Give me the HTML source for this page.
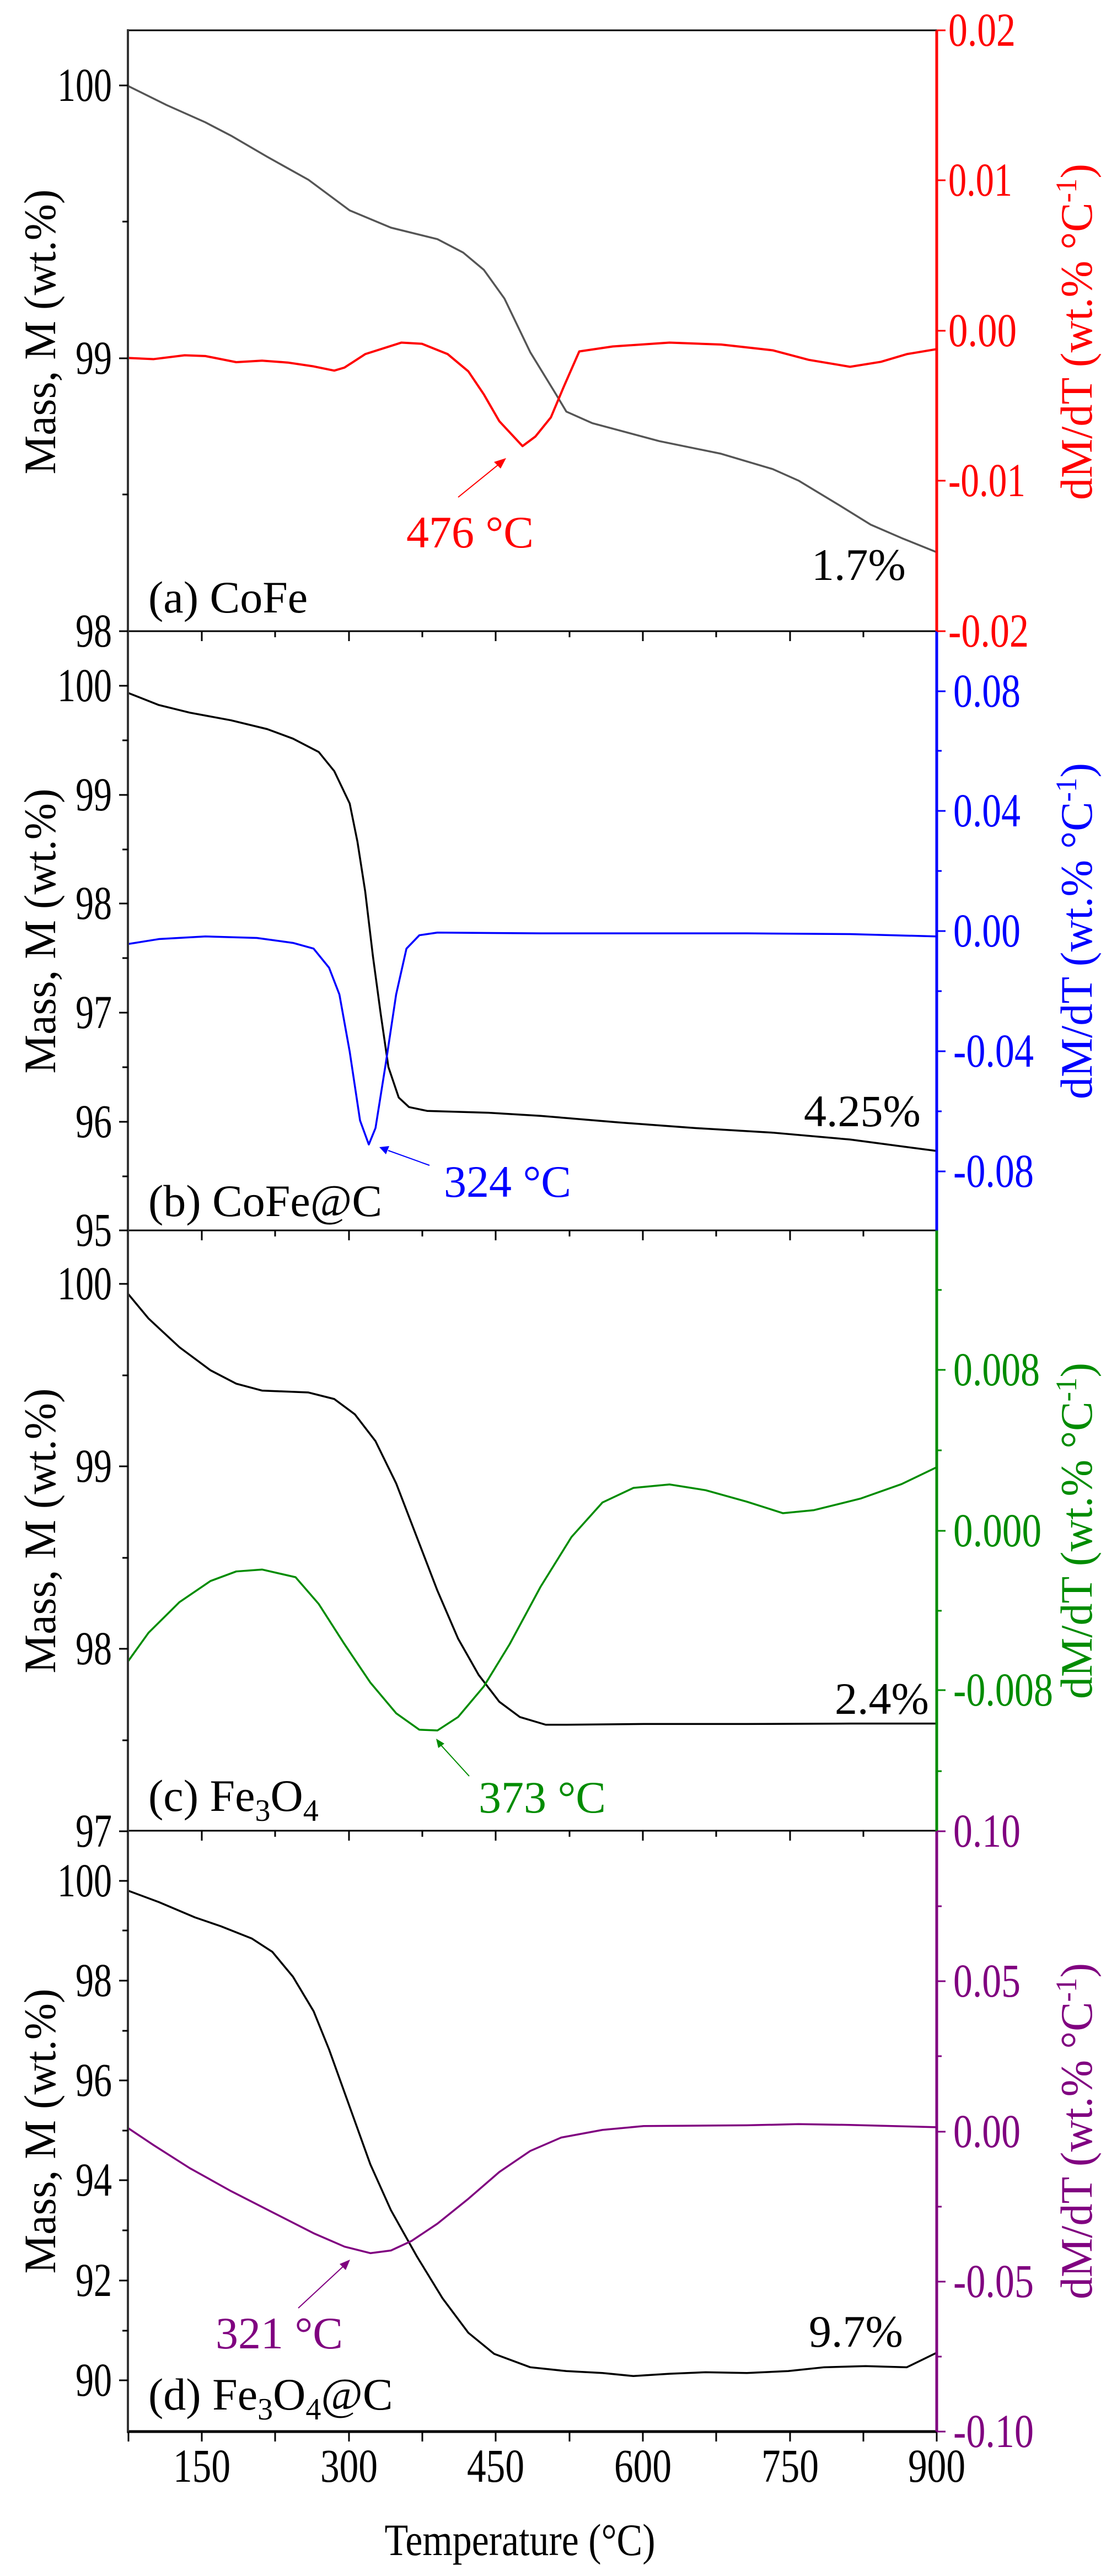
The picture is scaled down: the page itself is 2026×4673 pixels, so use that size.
<!DOCTYPE html>
<html><head><meta charset="utf-8"><style>
html,body{margin:0;padding:0;background:#fff;}
svg{display:block;font-family:"Liberation Serif",serif;}
</style></head><body>
<svg width="2026" height="4673" viewBox="0 0 2026 4673" xmlns="http://www.w3.org/2000/svg">
<rect width="2026" height="4673" fill="#fff"/>

<!-- Panel a curves -->
<svg x="232" y="55" width="1467" height="1090" viewBox="0 0 1568 1568" preserveAspectRatio="none">
<polyline fill="none" stroke="#555" stroke-width="3.5" vector-effect="non-scaling-stroke" stroke-linejoin="round" points="0,145 75,195 150,240 200,275 270,330 350,390 430,470 510,515 600,545 650,580 690,625 730,700 780,840 830,950 850,995 900,1025 1030,1072 1150,1105 1250,1145 1300,1175 1380,1240 1440,1290 1500,1325 1568,1362"/>
<polyline fill="none" stroke="#ff0000" stroke-width="4" vector-effect="non-scaling-stroke" stroke-linejoin="round" points="0,855 50,858 110,848 150,850 210,866 260,862 310,867 360,877 400,888 420,880 460,845 530,815 570,818 620,845 660,890 690,950 720,1020 765,1085 790,1060 820,1010 845,930 875,838 940,825 1050,815 1150,820 1250,835 1320,860 1400,878 1460,865 1510,845 1568,832"/>
</svg>
<!-- Panel b curves -->
<svg x="232" y="1146" width="1467" height="1086" viewBox="0 0 1568 1568" preserveAspectRatio="none">
<polyline fill="none" stroke="#000" stroke-width="3.5" vector-effect="non-scaling-stroke" stroke-linejoin="round" points="0,160 60,192 120,212 200,232 270,255 320,280 370,315 400,365 430,450 445,550 460,680 475,850 490,1000 505,1140 525,1220 545,1245 580,1255 700,1260 800,1268 950,1285 1100,1300 1250,1312 1400,1330 1568,1360"/>
<polyline fill="none" stroke="#0000ff" stroke-width="3.5" vector-effect="non-scaling-stroke" stroke-linejoin="round" points="0,818 60,805 150,798 250,802 320,815 360,830 390,880 410,950 430,1100 450,1280 467,1343 480,1300 500,1130 520,950 540,830 565,795 600,788 800,790 1000,790 1200,790 1400,792 1568,798"/>
</svg>
<!-- Panel c curves -->
<svg x="232" y="2232" width="1467" height="1090" viewBox="0 0 1568 1568" preserveAspectRatio="none">
<polyline fill="none" stroke="#000" stroke-width="3.5" vector-effect="non-scaling-stroke" stroke-linejoin="round" points="0,165 40,230 100,305 160,365 210,400 260,418 350,423 400,440 440,480 480,550 520,660 560,800 600,940 640,1065 680,1160 720,1230 760,1270 810,1290 850,1290 1000,1288 1200,1288 1400,1287 1568,1287"/>
<polyline fill="none" stroke="#008c00" stroke-width="3.5" vector-effect="non-scaling-stroke" stroke-linejoin="round" points="0,1125 40,1050 100,970 160,915 210,890 260,885 325,905 370,975 420,1080 470,1180 520,1260 565,1303 600,1305 640,1270 690,1190 740,1080 800,930 860,800 920,710 980,672 1050,663 1120,678 1200,708 1270,738 1330,730 1420,700 1500,662 1568,618"/>
</svg>
<!-- Panel d curves -->
<svg x="232" y="3322" width="1467" height="1089" viewBox="0 0 1568 1568" preserveAspectRatio="none">
<polyline fill="none" stroke="#000" stroke-width="3.5" vector-effect="non-scaling-stroke" stroke-linejoin="round" points="0,155 60,185 130,225 180,248 240,280 280,315 320,380 360,470 390,570 430,720 470,870 510,990 560,1110 610,1220 660,1310 710,1365 780,1400 850,1410 920,1415 980,1423 1050,1417 1120,1413 1200,1415 1280,1410 1350,1400 1430,1397 1510,1400 1568,1362"/>
<polyline fill="none" stroke="#800080" stroke-width="3.5" vector-effect="non-scaling-stroke" stroke-linejoin="round" points="0,775 50,820 120,880 200,940 280,995 360,1050 420,1085 470,1102 510,1095 550,1070 600,1025 660,960 720,890 780,835 840,800 920,780 1000,770 1200,768 1300,765 1400,767 1568,773"/>
</svg>

<!-- Frame lines -->
<g stroke="#000" stroke-width="3">
<line x1="232" y1="55" x2="1699" y2="55"/>
<line x1="232" y1="1145" x2="1699" y2="1145"/>
<line x1="232" y1="2232" x2="1699" y2="2232"/>
<line x1="232" y1="3321" x2="1699" y2="3321"/>
</g>
<line x1="230" y1="4411" x2="1699" y2="4411" stroke="#000" stroke-width="5"/>
<line x1="232" y1="53" x2="232" y2="4413" stroke="#333" stroke-width="4"/>
<line x1="1699" y1="55" x2="1699" y2="1145" stroke="#ff0000" stroke-width="5"/>
<line x1="1699" y1="1145" x2="1699" y2="2232" stroke="#0000ff" stroke-width="5"/>
<line x1="1699" y1="2232" x2="1699" y2="3322" stroke="#008c00" stroke-width="5"/>
<line x1="1699" y1="3322" x2="1699" y2="4411" stroke="#800080" stroke-width="5"/>

<!-- x ticks at panel boundaries (pointing down) -->
<g stroke="#000" stroke-width="3">
<path d="M366,1145v18 M499,1145v11 M633,1145v18 M766,1145v11 M899,1145v18 M1033,1145v11 M1166,1145v18 M1299,1145v11 M1433,1145v18 M1566,1145v11"/>
<path d="M366,2232v18 M499,2232v11 M633,2232v18 M766,2232v11 M899,2232v18 M1033,2232v11 M1166,2232v18 M1299,2232v11 M1433,2232v18 M1566,2232v11"/>
<path d="M366,3321v18 M499,3321v11 M633,3321v18 M766,3321v11 M899,3321v18 M1033,3321v11 M1166,3321v18 M1299,3321v11 M1433,3321v18 M1566,3321v11"/>
<path d="M233,4411v18 M366,4411v18 M499,4411v18 M633,4411v18 M766,4411v18 M899,4411v18 M1033,4411v18 M1166,4411v18 M1299,4411v18 M1433,4411v18 M1566,4411v18 M1699,4411v18"/>
</g>

<!-- left y ticks -->
<g stroke="#000" stroke-width="3">
<path d="M216,155h16 M222,402h10 M216,650h16 M222,897h10 M216,1145h16"/>
<path d="M216,1244h16 M222,1343h10 M216,1442h16 M222,1541h10 M216,1639h16 M222,1738h10 M216,1837h16 M222,1936h10 M216,2035h16 M222,2134h10 M216,2232h16"/>
<path d="M216,2329h16 M222,2495h10 M216,2660h16 M222,2826h10 M216,2991h16 M222,3157h10 M216,3322h16"/>
<path d="M216,3412h16 M222,3502h10 M216,3593h16 M222,3684h10 M216,3774h16 M222,3865h10 M216,3955h16 M222,4046h10 M216,4137h16 M222,4228h10 M216,4318h16"/>
</g>
<!-- right y ticks -->
<g stroke-width="3">
<path stroke="#ff0000" d="M1699,55h16 M1699,327h16 M1699,600h16 M1699,872h16 M1699,1145h16"/>
<path stroke="#0000ff" d="M1699,1254h16 M1699,1362h9 M1699,1471h16 M1699,1580h9 M1699,1689h16 M1699,1798h9 M1699,1907h16 M1699,2016h9 M1699,2125h16"/>
<path stroke="#008c00" d="M1699,2340h9 M1699,2485h16 M1699,2631h9 M1699,2777h16 M1699,2922h9 M1699,3066h16 M1699,3213h9"/>
<path stroke="#800080" d="M1699,3322h16 M1699,3458h9 M1699,3594h16 M1699,3730h9 M1699,3867h16 M1699,4003h9 M1699,4139h16 M1699,4275h9 M1699,4411h16"/>
</g>

<!-- left tick labels -->
<g font-size="86" fill="#000" lengthAdjust="spacingAndGlyphs">
<text x="104" y="183" textLength="99" lengthAdjust="spacingAndGlyphs">100</text>
<text x="137" y="678" textLength="66" lengthAdjust="spacingAndGlyphs">99</text>
<text x="137" y="1173" textLength="66" lengthAdjust="spacingAndGlyphs">98</text>
<text x="104" y="1272" textLength="99" lengthAdjust="spacingAndGlyphs">100</text>
<text x="137" y="1470" textLength="66" lengthAdjust="spacingAndGlyphs">99</text>
<text x="137" y="1667" textLength="66" lengthAdjust="spacingAndGlyphs">98</text>
<text x="137" y="1865" textLength="66" lengthAdjust="spacingAndGlyphs">97</text>
<text x="137" y="2063" textLength="66" lengthAdjust="spacingAndGlyphs">96</text>
<text x="137" y="2260" textLength="66" lengthAdjust="spacingAndGlyphs">95</text>
<text x="104" y="2357" textLength="99" lengthAdjust="spacingAndGlyphs">100</text>
<text x="137" y="2688" textLength="66" lengthAdjust="spacingAndGlyphs">99</text>
<text x="137" y="3019" textLength="66" lengthAdjust="spacingAndGlyphs">98</text>
<text x="137" y="3350" textLength="66" lengthAdjust="spacingAndGlyphs">97</text>
<text x="104" y="3440" textLength="99" lengthAdjust="spacingAndGlyphs">100</text>
<text x="137" y="3621" textLength="66" lengthAdjust="spacingAndGlyphs">98</text>
<text x="137" y="3802" textLength="66" lengthAdjust="spacingAndGlyphs">96</text>
<text x="137" y="3983" textLength="66" lengthAdjust="spacingAndGlyphs">94</text>
<text x="137" y="4165" textLength="66" lengthAdjust="spacingAndGlyphs">92</text>
<text x="137" y="4346" textLength="66" lengthAdjust="spacingAndGlyphs">90</text>
</g>

<!-- right tick labels -->
<g font-size="86">
<g fill="#ff0000">
<text x="1720" y="83" textLength="122" lengthAdjust="spacingAndGlyphs">0.02</text>
<text x="1720" y="355" textLength="116" lengthAdjust="spacingAndGlyphs">0.01</text>
<text x="1720" y="628" textLength="124" lengthAdjust="spacingAndGlyphs">0.00</text>
<text x="1720" y="900" textLength="140" lengthAdjust="spacingAndGlyphs">-0.01</text>
<text x="1720" y="1173" textLength="146" lengthAdjust="spacingAndGlyphs">-0.02</text>
</g>
<g fill="#0000ff">
<text x="1729" y="1282" textLength="122" lengthAdjust="spacingAndGlyphs">0.08</text>
<text x="1729" y="1499" textLength="122" lengthAdjust="spacingAndGlyphs">0.04</text>
<text x="1729" y="1717" textLength="122" lengthAdjust="spacingAndGlyphs">0.00</text>
<text x="1729" y="1935" textLength="146" lengthAdjust="spacingAndGlyphs">-0.04</text>
<text x="1729" y="2153" textLength="146" lengthAdjust="spacingAndGlyphs">-0.08</text>
</g>
<g fill="#008c00">
<text x="1729" y="2513" textLength="157" lengthAdjust="spacingAndGlyphs">0.008</text>
<text x="1729" y="2805" textLength="160" lengthAdjust="spacingAndGlyphs">0.000</text>
<text x="1729" y="3094" textLength="181" lengthAdjust="spacingAndGlyphs">-0.008</text>
</g>
<g fill="#800080">
<text x="1729" y="3350" textLength="122" lengthAdjust="spacingAndGlyphs">0.10</text>
<text x="1729" y="3622" textLength="122" lengthAdjust="spacingAndGlyphs">0.05</text>
<text x="1729" y="3895" textLength="122" lengthAdjust="spacingAndGlyphs">0.00</text>
<text x="1729" y="4167" textLength="146" lengthAdjust="spacingAndGlyphs">-0.05</text>
<text x="1729" y="4439" textLength="146" lengthAdjust="spacingAndGlyphs">-0.10</text>
</g>
</g>

<!-- x tick labels -->
<g font-size="86" text-anchor="middle">
<text x="366" y="4502" textLength="104" lengthAdjust="spacingAndGlyphs">150</text>
<text x="633" y="4502" textLength="104" lengthAdjust="spacingAndGlyphs">300</text>
<text x="899" y="4502" textLength="104" lengthAdjust="spacingAndGlyphs">450</text>
<text x="1166" y="4502" textLength="104" lengthAdjust="spacingAndGlyphs">600</text>
<text x="1433" y="4502" textLength="104" lengthAdjust="spacingAndGlyphs">750</text>
<text x="1699" y="4502" textLength="104" lengthAdjust="spacingAndGlyphs">900</text>
</g>
<text x="943" y="4635" font-size="82" text-anchor="middle" textLength="491" lengthAdjust="spacingAndGlyphs">Temperature (°C)</text>

<!-- left axis titles -->
<g font-size="82">
<text transform="translate(100,602) rotate(-90)" text-anchor="middle" textLength="517" lengthAdjust="spacingAndGlyphs">Mass, M (wt.%)</text>
<text transform="translate(100,1689) rotate(-90)" text-anchor="middle" textLength="517" lengthAdjust="spacingAndGlyphs">Mass, M (wt.%)</text>
<text transform="translate(100,2777) rotate(-90)" text-anchor="middle" textLength="517" lengthAdjust="spacingAndGlyphs">Mass, M (wt.%)</text>
<text transform="translate(100,3866) rotate(-90)" text-anchor="middle" textLength="517" lengthAdjust="spacingAndGlyphs">Mass, M (wt.%)</text>
</g>
<!-- right axis titles -->
<g font-size="82">
<text transform="translate(1980,602) rotate(-90)" text-anchor="middle" fill="#ff0000" textLength="610" lengthAdjust="spacingAndGlyphs">dM/dT (wt.% °C<tspan dy="-28" font-size="54">-1</tspan><tspan dy="28">)</tspan></text>
<text transform="translate(1980,1689) rotate(-90)" text-anchor="middle" fill="#0000ff" textLength="610" lengthAdjust="spacingAndGlyphs">dM/dT (wt.% °C<tspan dy="-28" font-size="54">-1</tspan><tspan dy="28">)</tspan></text>
<text transform="translate(1980,2777) rotate(-90)" text-anchor="middle" fill="#008c00" textLength="610" lengthAdjust="spacingAndGlyphs">dM/dT (wt.% °C<tspan dy="-28" font-size="54">-1</tspan><tspan dy="28">)</tspan></text>
<text transform="translate(1980,3866) rotate(-90)" text-anchor="middle" fill="#800080" textLength="610" lengthAdjust="spacingAndGlyphs">dM/dT (wt.% °C<tspan dy="-28" font-size="54">-1</tspan><tspan dy="28">)</tspan></text>
</g>

<!-- panel labels -->
<g font-size="82">
<text x="269" y="1111">(a) CoFe</text>
<text x="1472" y="1052">1.7%</text>
<text x="737" y="993" fill="#ff0000">476 °C</text>
<text x="269" y="2206">(b) CoFe@C</text>
<text x="1458" y="2043">4.25%</text>
<text x="805" y="2171" fill="#0000ff">324 °C</text>
<text x="269" y="3285">(c) Fe<tspan dy="18" font-size="56">3</tspan><tspan dy="-18">O</tspan><tspan dy="18" font-size="56">4</tspan></text>
<text x="1514" y="3109">2.4%</text>
<text x="868" y="3288" fill="#008c00">373 °C</text>
<text x="269" y="4371">(d) Fe<tspan dy="18" font-size="56">3</tspan><tspan dy="-18">O</tspan><tspan dy="18" font-size="56">4</tspan><tspan dy="-18">@C</tspan></text>
<text x="1467" y="4257">9.7%</text>
<text x="391" y="4260" fill="#800080">321 °C</text>
</g>

<!-- arrows -->
<g stroke-width="2">
<line x1="831" y1="902" x2="905" y2="842" stroke="#ff0000"/>
<polygon points="918,831 896,838 908,850" fill="#ff0000"/>
<line x1="779" y1="2114" x2="704" y2="2087" stroke="#0000ff"/>
<polygon points="688,2081 706,2079 700,2094" fill="#0000ff"/>
<line x1="851" y1="3222" x2="800" y2="3166" stroke="#008c00"/>
<polygon points="791,3154 806,3163 795,3171" fill="#008c00"/>
<line x1="541" y1="4187" x2="624" y2="4110" stroke="#800080"/>
<polygon points="635,4099 627,4118 616,4107" fill="#800080"/>
</g>
</svg>
</body></html>
